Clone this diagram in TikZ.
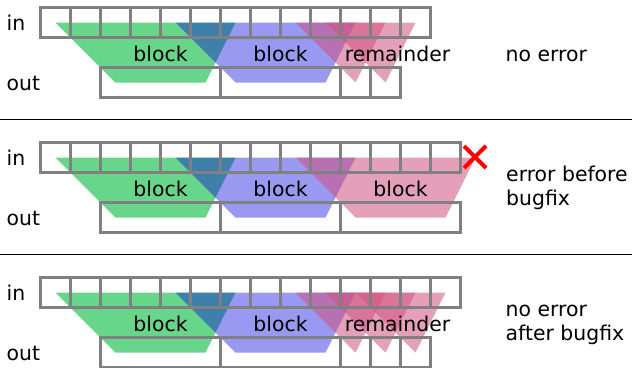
\documentclass[tikz,border=0pt]{standalone}
\usepackage{fontspec}
\setmainfont{DejaVu Sans}
\definecolor{gridgray}{RGB}{128,128,128}
\definecolor{fgreen}{RGB}{104,214,138}
\definecolor{fblue}{RGB}{0,0,220}
\definecolor{fpink}{RGB}{208,82,128}
\begin{document}
\begin{tikzpicture}[x=1pt,y=-1pt,
  gridline/.style={draw=gridgray, line width=3pt},
  lbl/.style={inner sep=0pt, font=\fontsize{20.4}{24}\selectfont},
  greenfill/.style={fill=fgreen},
  bluefill/.style={fill=fblue, fill opacity=0.4},
  pinkfill/.style={fill=fpink, fill opacity=0.55},
  trapez/.pic={\path[pic actions] (0,0) -- (180,0) -- (150,60) -- (60,60) -- cycle;},
  wedge/.pic={\path[pic actions] (0,0) -- (90,0) -- (60,60) -- cycle;},
  cross/.style={draw=red, line width=4pt}]
\useasboundingbox (0,0) rectangle (632,367);

% panel separators
\draw[line width=1pt] (0,119.5) -- (632,119.5);
\draw[line width=1pt] (0,254.5) -- (632,254.5);

% ---------- panel 1: no error ----------
\begin{scope}
  \pic[greenfill] at (55.5,22.5) {trapez};
  \pic[bluefill]  at (175.5,22.5) {trapez};
  \pic[pinkfill]  at (295.5,22.5) {wedge};
  \pic[pinkfill]  at (325.5,22.5) {wedge};
  \draw[gridline] (40.5,7.5) rectangle (430.5,37.5);
  \foreach \k in {1,...,12} \draw[gridline] (40.5+30*\k,7.5) -- (40.5+30*\k,37.5);
  \draw[gridline] (100.5,67.5) rectangle (400.5,97.5);
  \foreach \x in {220.5,340.5,370.5} \draw[gridline] (\x,67.5) -- (\x,97.5);
  \node[lbl, anchor=base west] (inA) at (6.5,30) {in};
  \node[lbl, anchor=base west] (outA) at (6.5,90) {out};
  \node[lbl, anchor=base] (blkA1) at (160.5,61) {block};
  \node[lbl, anchor=base] (blkA2) at (280.5,61) {block};
  \node[lbl, anchor=base] (remA) at (397.5,61) {remainder};
  \node[lbl, anchor=base west] (noteA) at (505.5,61) {no error};
\end{scope}

% ---------- panel 2: error before bugfix ----------
\begin{scope}[shift={(0,135)}]
  \pic[greenfill] at (55.5,22.5) {trapez};
  \pic[bluefill]  at (175.5,22.5) {trapez};
  \pic[pinkfill]  at (295.5,22.5) {trapez};
  \draw[gridline] (40.5,7.5) rectangle (460.5,37.5);
  \foreach \k in {1,...,13} \draw[gridline] (40.5+30*\k,7.5) -- (40.5+30*\k,37.5);
  \draw[gridline] (100.5,67.5) rectangle (460.5,97.5);
  \foreach \x in {220.5,340.5} \draw[gridline] (\x,67.5) -- (\x,97.5);
  \coordinate (xa) at (464,11); \coordinate (xb) at (486,33);
  \coordinate (xc) at (464,33); \coordinate (xd) at (486,11);
  \draw[cross] (xa) -- (xb) (xc) -- (xd);
  \node[lbl, anchor=base west] (inB) at (6.5,30) {in};
  \node[lbl, anchor=base west] (outB) at (6.5,90) {out};
  \node[lbl, anchor=base] (blkB1) at (160.5,61) {block};
  \node[lbl, anchor=base] (blkB2) at (280.5,61) {block};
  \node[lbl, anchor=base] (blkB3) at (400.5,61) {block};
  \node[lbl, anchor=base west, align=left] (noteB) at (506,70.7) {error before\\bugfix};
\end{scope}

% ---------- panel 3: no error after bugfix ----------
\begin{scope}[shift={(0,270)}]
  \pic[greenfill] at (55.5,22.5) {trapez};
  \pic[bluefill]  at (175.5,22.5) {trapez};
  \pic[pinkfill]  at (295.5,22.5) {wedge};
  \pic[pinkfill]  at (325.5,22.5) {wedge};
  \pic[pinkfill]  at (355.5,22.5) {wedge};
  \draw[gridline] (40.5,7.5) rectangle (460.5,37.5);
  \foreach \k in {1,...,13} \draw[gridline] (40.5+30*\k,7.5) -- (40.5+30*\k,37.5);
  \draw[gridline] (100.5,67.5) rectangle (430.5,97.5);
  \foreach \x in {220.5,340.5,370.5,400.5} \draw[gridline] (\x,67.5) -- (\x,97.5);
  \node[lbl, anchor=base west] (inC) at (6.5,30) {in};
  \node[lbl, anchor=base west] (outC) at (6.5,90) {out};
  \node[lbl, anchor=base] (blkC1) at (160.5,61) {block};
  \node[lbl, anchor=base] (blkC2) at (280.5,61) {block};
  \node[lbl, anchor=base] (remC) at (397.5,61) {remainder};
  \node[lbl, anchor=base west, align=left] (noteC) at (505.5,70.7) {no error\\after bugfix};
\end{scope}
\end{tikzpicture}
\end{document}
